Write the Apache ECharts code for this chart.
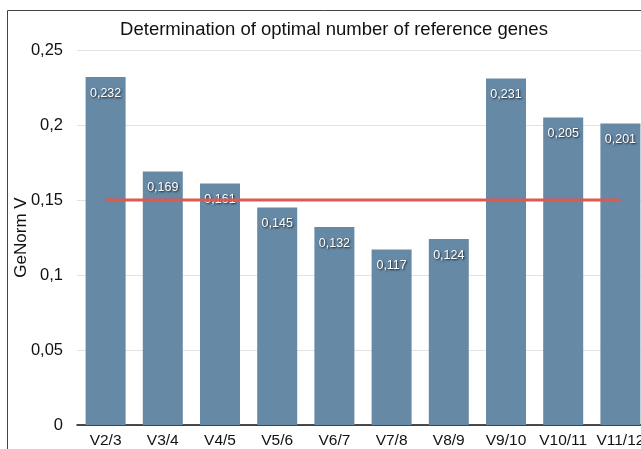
<!DOCTYPE html>
<html><head><meta charset="utf-8">
<script src="https://cdn.jsdelivr.net/npm/echarts@6/dist/echarts.min.js"></script>
<style>html,body{margin:0;padding:0;background:#fff}#c{width:641px;height:449px}</style>
</head><body><div id="c"></div>
<script>
var categories = ['V2/3','V3/4','V4/5','V5/6','V6/7','V7/8','V8/9','V9/10','V10/11','V11/12'];
var genormV = [0.232,0.169,0.161,0.145,0.132,0.117,0.124,0.231,0.205,0.201];
var cutoff = [0.15,0.15,0.15,0.15,0.15,0.15,0.15,0.15,0.15,0.15];
var fmt = function(v){ return String(v).replace('.', ','); };
var chart = echarts.init(document.getElementById('c'), null, {renderer:'canvas'});
chart.setOption({
  animation:false,
  graphic:[{type:'rect', shape:{x:7.5,y:10.5,width:700,height:500}, style:{fill:'none', stroke:'#444', lineWidth:1}, z:-1}],
  title:{text:'Determination of optimal number of reference genes', left:329, textAlign:'center', top:15,
    textStyle:{fontFamily:'Liberation Sans, Arial', fontSize:18.5, fontWeight:'normal', color:'#111'}},
  grid:{left:77, top:50, right:-8, height:375, containLabel:false, outerBoundsMode:'none'},
  xAxis:{type:'category', data:categories,
    axisLine:{lineStyle:{color:'#111', width:1.5}}, axisTick:{show:false},
    axisLabel:{fontFamily:'Liberation Sans, Arial', fontSize:15.5, color:'#111', margin:8, interval:0}},
  yAxis:{type:'value', min:0, max:0.25, interval:0.05, name:'GeNorm V', nameLocation:'middle', nameGap:47, nameMoveOverlap:false,
    nameTextStyle:{fontFamily:'Liberation Sans, Arial', fontSize:17, color:'#111'},
    axisLine:{show:false}, axisTick:{show:false},
    splitLine:{lineStyle:{color:'#e2e2e2', width:1}},
    axisLabel:{fontFamily:'Liberation Sans, Arial', fontSize:16.5, color:'#111', margin:14, formatter:function(v){return fmt(+v.toFixed(2));}}},
  series:[
    {type:'bar', data:genormV, barWidth:40, itemStyle:{color:'#6689a6'}, z:2,
      label:{show:true, position:'insideTop', distance:10, color:'#fff', fontFamily:'Liberation Sans, Arial', fontSize:12.5,
        textShadowColor:'rgba(0,0,0,0.8)', textShadowBlur:2, textShadowOffsetX:1, textShadowOffsetY:1,
        formatter:function(p){return fmt(p.value);}}},
    {type:'line', data:cutoff, symbol:'none', lineStyle:{color:'#dc5a50', width:3}, z:3, silent:true}
  ]
});
</script></body></html>
